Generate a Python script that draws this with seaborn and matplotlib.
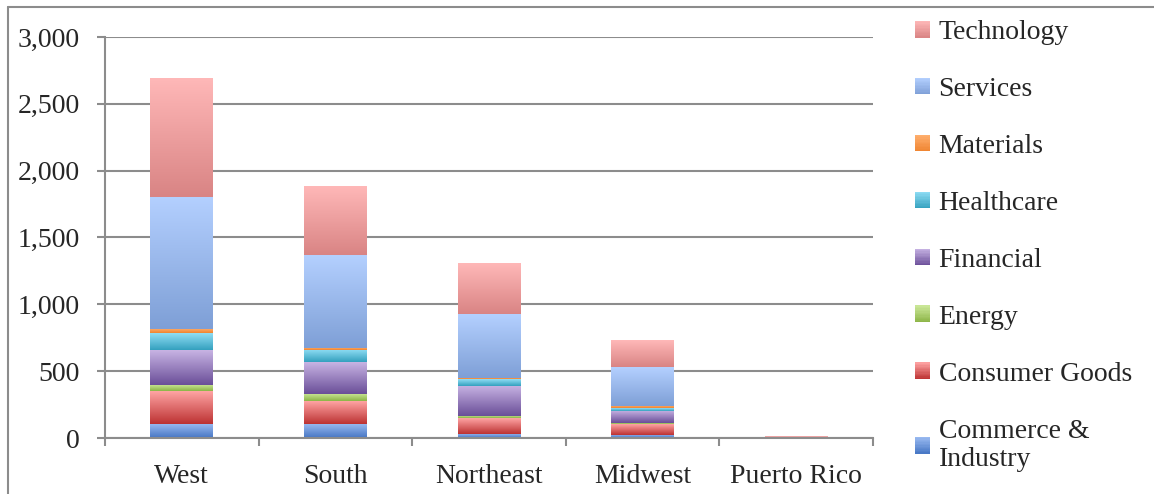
import numpy as np
import pandas as pd
import matplotlib
matplotlib.use("Agg")
import matplotlib.pyplot as plt
import seaborn as sns
from matplotlib.colors import to_rgb, to_hex
from matplotlib.lines import Line2D
from matplotlib.patches import Patch, Rectangle
from matplotlib.legend_handler import HandlerBase

# Dados (empilhado por região)
regioes = ["West", "South", "Northeast", "Midwest", "Puerto Rico"]
setores = ["Technology", "Services", "Materials", "Healthcare",
           "Financial", "Energy", "Consumer Goods", "Commerce & Industry"]

technology = [890, 515, 380, 195, 3]
services = [990, 695, 478, 290, 2]
materials = [32, 18, 10, 18, 0]
healthcare = [127, 92, 50, 18, 0]
financial = [255, 234, 227, 90, 1]
energy = [50, 57, 18, 12, 0]
consumer_goods = [245, 170, 115, 77, 1]
commerce_industry = [105, 105, 32, 25, 0]

valores = [technology, services, materials, healthcare,
           financial, energy, consumer_goods, commerce_industry]

# Gradiente (topo claro -> base escura), estilo Excel
cores_topo = ["#ffb8b8", "#b4d0ff", "#ffb070", "#90def5",
              "#c8b4e4", "#cce89a", "#ffa4a4", "#9cbcf2"]
cores_base = ["#d98484", "#7e9fd6", "#ef8430", "#34a0be",
              "#6a4e98", "#8cb446", "#bc3232", "#4676c4"]

linhas = []
for setor, vals in zip(setores, valores):
    for reg, v in zip(regioes, vals):
        linhas.append({"Region": reg, "Sector": setor, "Value": v})
df = pd.DataFrame(linhas)
df["Region"] = pd.Categorical(df["Region"], categories=regioes, ordered=True)

cor_media = {}
for s, t, b in zip(setores, cores_topo, cores_base):
    cor_media[s] = to_hex((np.array(to_rgb(t)) + np.array(to_rgb(b))) / 2)


class HandlerGradiente(HandlerBase):
    """Quadradinho da legenda com gradiente vertical em faixas."""
    def __init__(self, topo, base, n=12):
        super().__init__()
        self.topo = np.array(to_rgb(topo))
        self.base = np.array(to_rgb(base))
        self.n = n

    def create_artists(self, legend, orig_handle, xdescent, ydescent,
                       width, height, fontsize, trans):
        arts = []
        hh = height / self.n
        for k in range(self.n):
            f = (k + 0.5) / self.n
            cor = self.base * (1 - f) + self.topo * f
            r = Rectangle((-xdescent, -ydescent + k * hh), width, hh * 1.05,
                          facecolor=cor, edgecolor="none", transform=trans)
            arts.append(r)
        return arts


sns.set_theme(style="white")
plt.rcParams["font.family"] = ["Liberation Serif", "DejaVu Serif"]

fig = plt.figure(figsize=(11.54, 4.94), dpi=100)
ax = fig.add_axes([105 / 1154, 56 / 494, 768 / 1154, 401 / 494])

sns.histplot(data=df, x="Region", weights="Value", hue="Sector",
             hue_order=setores, multiple="stack", discrete=True,
             shrink=0.41, palette=cor_media, alpha=1, linewidth=0,
             legend=False, ax=ax)

# pintar cada segmento com gradiente vertical
grad = np.linspace(0, 1, 256).reshape(-1, 1)
por_cor = {to_hex(c): i for i, c in enumerate(cor_media.values())}
for p in list(ax.patches):
    h = p.get_height()
    if h <= 0:
        continue
    i = por_cor.get(to_hex(p.get_facecolor()[:3]))
    if i is None:
        continue
    c0 = np.array(to_rgb(cores_base[i]))
    c1 = np.array(to_rgb(cores_topo[i]))
    img = c0[None, None, :] * (1 - grad[:, :, None]) + c1[None, None, :] * grad[:, :, None]
    x0, w, y0 = p.get_x(), p.get_width(), p.get_y()
    ax.imshow(img, extent=[x0, x0 + w, y0, y0 + h], origin="lower",
              aspect="auto", interpolation="bilinear", zorder=2)
    p.set_visible(False)

ax.set_xlim(-0.5, 4.5)
ax.set_ylim(0, 3000)
ax.set_yticks(range(0, 3001, 500))
ax.set_yticklabels([f"{v:,}" for v in range(0, 3001, 500)])
ax.set_xticks(range(5))
ax.set_xticklabels(regioes)
ax.set_xticks(np.arange(-0.5, 5, 1), minor=True)
ax.set_xlabel("")
ax.set_ylabel("")

cinza = "#8c8c8c"
ax.grid(axis="y", color=cinza, linewidth=1.5)
ax.set_axisbelow(True)
for lado in ["top", "right"]:
    ax.spines[lado].set_visible(False)
for lado in ["left", "bottom"]:
    ax.spines[lado].set_color(cinza)
    ax.spines[lado].set_linewidth(1.5)
ax.tick_params(axis="y", which="major", left=True, length=6, width=1.5,
               color=cinza, pad=12, labelsize=20)
ax.tick_params(axis="x", which="major", bottom=False, length=0, pad=19, labelsize=20)
ax.tick_params(axis="x", which="minor", bottom=True, length=6, width=1.5, color=cinza)

# legenda
handles = [Patch(facecolor=cor_media[s], edgecolor="none") for s in setores]
mapa = {h: HandlerGradiente(t, b) for h, t, b in zip(handles, cores_topo, cores_base)}
rotulos = [s if s != "Commerce & Industry" else "Commerce &\nIndustry" for s in setores]
fig.legend(handles, rotulos, loc="upper left", bbox_to_anchor=(915 / 1154, 1 - 20 / 494),
           frameon=False, fontsize=20, handlelength=0.55, handleheight=0.55,
           handletextpad=0.3, labelspacing=1.15, borderpad=0, borderaxespad=0,
           handler_map=mapa)

# moldura do gráfico
fig.add_artist(Line2D([7.5 / 1154, 7.5 / 1154], [0, 1 - 7.5 / 494], color=cinza, lw=1.5))
fig.add_artist(Line2D([7.5 / 1154, 1], [1 - 7.5 / 494, 1 - 7.5 / 494], color=cinza, lw=1.5))

fig.savefig("out.png", dpi=100)
